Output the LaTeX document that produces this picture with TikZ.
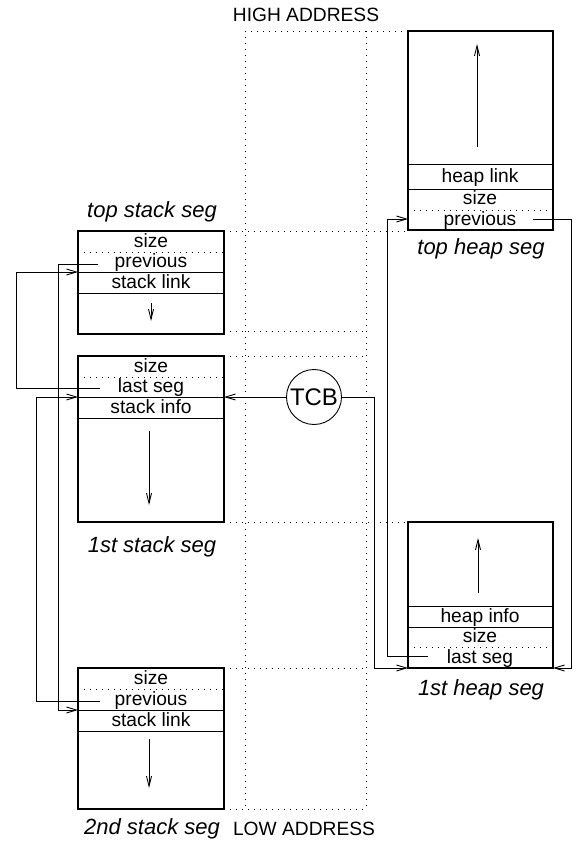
\documentclass[tikz,border=0pt]{standalone}
\usepackage{fontspec}
\setmainfont{Liberation Sans}
\usetikzlibrary{arrows.meta,fit}

\newcommand{\figfont}{\fontsize{19.2}{23}\selectfont}
\newcommand{\namefont}{\fontsize{22}{26}\selectfont\itshape}

\tikzset{
  seg/.style={draw, line width=1.1pt, inner sep=0pt, outer sep=0pt},
  fld/.style={font=\figfont, inner sep=0pt, text height=14pt, text depth=3pt},
  lbl/.style={font=\namefont, inner sep=0pt},
  addr/.style={font=\figfont, inner sep=0pt},
  dots/.style={line width=0.9pt, dash pattern=on 1pt off 5pt},
  divider/.style={line width=0.9pt},
  link/.style={line width=0.9pt, -{Straight Barb[length=10pt,width=6pt]}},
  growarrow/.style={line width=0.9pt, -{Straight Barb[length=10pt,width=5pt]}},
}

\begin{document}
\begin{tikzpicture}[x=1pt, y=-1pt]
\useasboundingbox (0,0) rectangle (578,842);

% address column
\draw[dots] (245,31) -- (245,809);
\draw[dots] (366,31) -- (366,809);
\draw[dots] (245,31) -- (408,31);
\draw[dots] (224,231) -- (408,231);
\draw[dots] (224,331) -- (366,331);
\draw[dots] (224,356) -- (366,356);
\draw[dots] (224,522) -- (408,522);
\draw[dots] (224,668) -- (366,668);
\draw[dots] (224,809) -- (366,809);
\node[addr] (high) at (306,15) {HIGH ADDRESS};
\node[addr] (low) at (304,829) {LOW ADDRESS};

% ---- top stack segment
\node[seg, fit={(78,231) (224,334)}] (ts) {};
\draw[dots] (78,252) -- (224,252);
\draw[divider] (78,272) -- (224,272);
\draw[divider] (78,293) -- (224,293);
\node[fld] (tsSize) at (151,241.5) {size};
\node[fld] (tsPrevTxt) at (151,262) {previous};
\node[fld] (tsLink) at (151,282.5) {stack link};
\coordinate (tsA) at (151,303);
\coordinate (tsB) at (151,321);
\draw[growarrow] (tsA) -- (tsB);
\node[lbl] (tsName) at (152,212) {top stack seg};

% ---- 1st stack segment
\node[seg, fit={(78,356) (224,522)}] (fs) {};
\draw[dots] (78,377) -- (224,377);
\draw[divider] (78,397) -- (224,397);
\draw[divider] (78,418) -- (224,418);
\node[fld] (fsSize) at (151,366.5) {size};
\node[fld] (fsLastTxt) at (151,387) {last seg};
\node[fld] (fsInfo) at (151,407.5) {stack info};
\coordinate (fsA) at (149,431);
\coordinate (fsB) at (149,505);
\draw[growarrow] (fsA) -- (fsB);
\node[lbl] (fsName) at (152,547) {1st stack seg};

% ---- 2nd stack segment
\node[seg, fit={(78,668) (224,809)}] (ss) {};
\draw[dots] (78,689) -- (224,689);
\draw[divider] (78,710) -- (224,710);
\draw[divider] (78,731) -- (224,731);
\node[fld] (ssSize) at (151,678.5) {size};
\node[fld] (ssPrevTxt) at (151,699.5) {previous};
\node[fld] (ssLink) at (151,720.5) {stack link};
\coordinate (ssA) at (149,739);
\coordinate (ssB) at (149,788);
\draw[growarrow] (ssA) -- (ssB);
\node[lbl] (ssName) at (152,829) {2nd stack seg};

% ---- top heap segment
\node[seg, fit={(408,31) (553,230)}] (th) {};
\draw[divider] (408,164) -- (553,164);
\draw[divider] (408,189) -- (553,189);
\draw[dots] (408,210) -- (553,210);
\node[fld] (thLink) at (480,177) {heap link};
\node[fld] (thSize) at (480,199.5) {size};
\node[fld] (thPrevTxt) at (480,220) {previous};
\coordinate (thA) at (477,147);
\coordinate (thB) at (477,44);
\draw[growarrow] (thA) -- (thB);
\node[lbl] (thName) at (481,249) {top heap seg};

% ---- 1st heap segment
\node[seg, fit={(408,522) (553,668)}] (fh) {};
\draw[divider] (408,606) -- (553,606);
\draw[divider] (408,627) -- (553,627);
\draw[dots] (408,647) -- (553,647);
\node[fld] (fhInfo) at (480,616.5) {heap info};
\node[fld] (fhSize) at (480,637) {size};
\node[fld] (fhLastTxt) at (480,657.5) {last seg};
\coordinate (fhA) at (478,593);
\coordinate (fhB) at (478,538);
\draw[growarrow] (fhA) -- (fhB);
\node[lbl] (fhName) at (481,690) {1st heap seg};

% ---- task control block
\node[draw, circle, line width=0.9pt, minimum size=55pt, inner sep=0pt,
      font=\fontsize{24}{28}\selectfont] (tcb) at (314,397) {TCB};

% ---- link fields (start / end points)
\coordinate (tsPrev) at (98,264);
\coordinate (fsLast) at (100,388);
\coordinate (ssPrev) at (100,701);
\coordinate (tsIn) at (78,272);
\coordinate (fsIn) at (78,397);
\coordinate (ssIn) at (78,710);
\coordinate (thPrev) at (533,219);
\coordinate (thIn) at (408,219);
\coordinate (fhLast) at (428,656);

% stack chain
\draw[link] (fsLast) -- (16,388) |- (tsIn);
\draw[link] (tsPrev) -- (58,264) |- (ssIn);
\draw[link] (ssPrev) -- (36,701) |- (fsIn);

% TCB pointers
\draw[link] (tcb.west) -- (fs.east |- tcb.west);
\draw[link] (tcb.east) -- (374,397) |- (fh.south west);

% heap chain
\draw[link] (fhLast) -- (387,656) |- (thIn);
\draw[link] (thPrev) -- (571,219) |- (fh.south east);
\end{tikzpicture}
\end{document}
